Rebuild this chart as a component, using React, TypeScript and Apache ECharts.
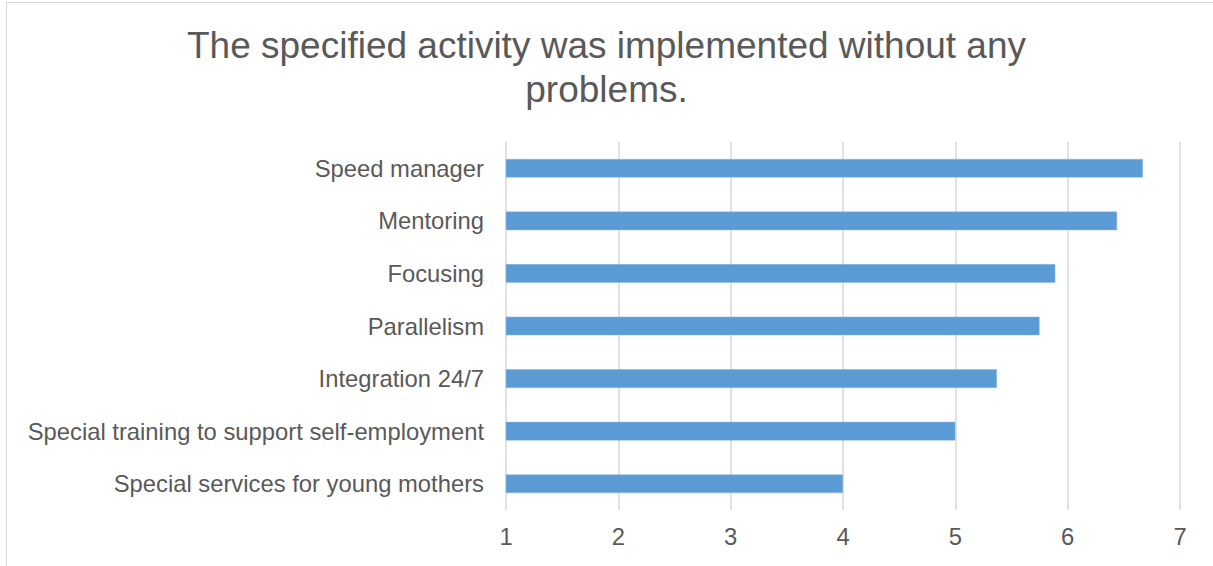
import React, { useEffect, useRef } from "react";
import * as echarts from "echarts";

const categories = [
  "Speed manager",
  "Mentoring",
  "Focusing",
  "Parallelism",
  "Integration 24/7",
  "Special training to support self-employment",
  "Special services for young mothers",
];
const values = [6.67, 6.44, 5.89, 5.75, 5.37, 5.0, 4.0];
const titleText = "The specified activity was implemented without any\nproblems.";

export default function App() {
  const ref = useRef<HTMLDivElement>(null);
  useEffect(() => {
    if (!ref.current) return;
    const chart = echarts.init(ref.current, undefined, { renderer: "svg" });
    const font = "'Liberation Sans', Arial, sans-serif";
    chart.setOption({
      animation: false,
      backgroundColor: "#ffffff",
      title: {
        text: titleText,
        left: "center",
        top: 23,
        padding: 0,
        textStyle: {
          fontFamily: font,
          fontSize: 37,
          fontWeight: "normal",
          color: "#595959",
          lineHeight: 44,
          align: "center",
        },
      },
      graphic: [
        {
          type: "rect",
          shape: { x: 6.5, y: 2.5, width: 1300, height: 700 },
          style: { fill: "none", stroke: "#d9d9d9", lineWidth: 1 },
          silent: true,
        },
      ],
      grid: { left: 506, right: 33, top: 142, bottom: 56 },
      xAxis: {
        type: "value",
        min: 1,
        max: 7,
        interval: 1,
        axisLine: { show: false },
        axisTick: { show: false },
        splitLine: { show: true, lineStyle: { color: "#d9d9d9", width: 1.5 } },
        axisLabel: {
          fontFamily: font,
          fontSize: 23.8,
          color: "#595959",
          margin: 14,
        },
      },
      yAxis: {
        type: "category",
        data: categories,
        inverse: true,
        axisLine: { show: false },
        axisTick: { show: false },
        splitLine: { show: false },
        axisLabel: {
          fontFamily: font,
          fontSize: 23.8,
          color: "#595959",
          margin: 22,
        },
      },
      series: [
        {
          type: "bar",
          data: values,
          barWidth: "35.5%",
          itemStyle: { color: "#5b9bd5", borderColor: "#8fbbe3", borderWidth: 0.5 },
        },
      ],
    });
    return () => chart.dispose();
  }, []);
  return (
    <div
      ref={ref}
      style={{ position: "fixed", left: 0, top: 0, width: 1213, height: 566 }}
    />
  );
}
